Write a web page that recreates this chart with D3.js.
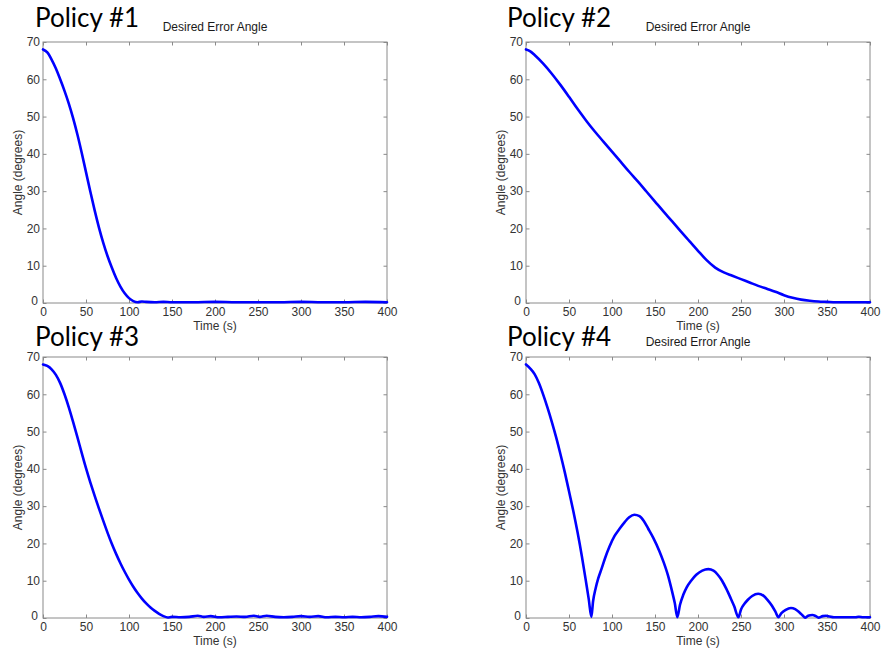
<!DOCTYPE html>
<html>
<head>
<meta charset="utf-8">
<script src="https://cdn.jsdelivr.net/npm/d3@7"></script>
<style>
  html, body { margin: 0; padding: 0; background: #ffffff; }
  svg { display: block; }
</style>
</head>
<body>
<svg id="chart" width="881" height="649"></svg>
<script>
// ---- data ----
const policyTitles = ["Policy #1", "Policy #2", "Policy #3", "Policy #4"];
const plotTitles = ["Desired Error Angle", "Desired Error Angle", "", "Desired Error Angle"];
const xLabel = "Time (s)";
const yLabel = "Angle (degrees)";
const xTicks = [0, 50, 100, 150, 200, 250, 300, 350, 400];
const yTicks = [0, 10, 20, 30, 40, 50, 60, 70];

const policy1Time  = [0, 5, 10, 15, 20, 25, 30, 35, 40, 45, 50, 55, 60, 65, 70, 75, 80, 85, 90, 95, 100, 105, 110, 115, 120, 130, 140, 150, 175, 200, 225, 250, 275, 300, 325, 350, 375, 400];
const policy1Angle = [68, 67.2, 65.3, 62.9, 60, 56.9, 53.5, 49.6, 45.2, 40.3, 35.1, 29.9, 24.9, 20.3, 16.2, 12.6, 9.5, 6.7, 4.4, 2.6, 1.3, 0.5, 0.2, 0.4, 0.3, 0.2, 0.3, 0.2, 0.2, 0.3, 0.2, 0.2, 0.2, 0.3, 0.2, 0.2, 0.3, 0.2];

const policy2Time  = [0, 5, 10, 20, 30, 40, 50, 60, 70, 80, 90, 100, 110, 120, 130, 140, 150, 160, 170, 180, 190, 200, 210, 220, 230, 240, 250, 260, 270, 280, 290, 300, 310, 320, 330, 340, 350, 360, 370, 380, 390, 400];
const policy2Angle = [68, 67.5, 66.5, 64.2, 61.5, 58.5, 55.3, 52, 48.9, 46, 43.3, 40.6, 37.9, 35.2, 32.6, 29.9, 27.2, 24.5, 21.9, 19.2, 16.6, 14, 11.5, 9.5, 8.2, 7.3, 6.4, 5.5, 4.6, 3.8, 3.0, 2.1, 1.4, 0.9, 0.6, 0.4, 0.3, 0.2, 0.2, 0.2, 0.2, 0.2];

const policy3Time  = [0, 5, 10, 15, 20, 25, 30, 35, 40, 45, 50, 55, 60, 65, 70, 75, 80, 85, 90, 95, 100, 105, 110, 115, 120, 125, 130, 135, 140, 145, 150, 160, 170, 180, 187, 195, 205, 215, 225, 235, 245, 252, 260, 270, 280, 290, 300, 310, 320, 330, 340, 350, 360, 370, 380, 390, 400];
const policy3Angle = [68, 67.6, 66.7, 65.2, 63, 60, 56.5, 52.6, 48.5, 44.3, 40.2, 36.4, 32.8, 29.4, 26.1, 22.9, 19.9, 17.2, 14.7, 12.4, 10.3, 8.4, 6.7, 5.2, 3.9, 2.8, 1.9, 1.1, 0.5, 0.15, 0.3, 0.2, 0.3, 0.6, 0.3, 0.5, 0.2, 0.3, 0.4, 0.3, 0.6, 0.3, 0.6, 0.3, 0.2, 0.3, 0.5, 0.3, 0.5, 0.2, 0.3, 0.2, 0.3, 0.2, 0.3, 0.5, 0.3];

const policy4Time  = [0, 5, 10, 15, 20, 25, 30, 35, 40, 45, 50, 55, 60, 65, 70, 73, 76,
  78, 81, 84, 88, 92, 97, 103, 109, 115, 120, 126, 132, 137, 142, 148, 155, 160, 165, 170, 173, 176,
  179, 183, 187, 192, 198, 205, 212, 218, 223, 228, 233, 238, 242, 247,
  250, 254, 258, 263, 270, 276, 281, 286, 290, 293.5,
  297, 302, 308, 313, 318, 322, 324.5, 328, 333, 337, 340, 345, 349, 353, 358, 370, 383, 387, 392, 400];
const policy4Angle = [68, 66.9, 65.4, 63, 59.9, 56.4, 52.6, 48.5, 44, 39.2, 34, 28.7, 22.9, 16.5, 9.4, 5, 0.3,
  4.5, 8, 10.6, 13.3, 16.1, 19.1, 22, 24, 25.8, 27, 27.7, 27.3, 26, 24, 21.5, 18, 15, 11.5, 7, 4, 0.2,
  3.5, 6.3, 8.3, 10, 11.6, 12.7, 13.1, 12.7, 11.6, 10, 7.8, 5.3, 3.2, 0.2,
  2.3, 3.8, 4.9, 5.9, 6.5, 6, 4.8, 3.3, 1.7, 0.2,
  1.3, 2.2, 2.7, 2.4, 1.5, 0.6, 0.1, 0.6, 0.8, 0.5, 0.1, 0.5, 0.6, 0.4, 0.2, 0.2, 0.2, 0.35, 0.2, 0.2];

const seriesTimes = [policy1Time, policy2Time, policy3Time, policy4Time];
const seriesAngles = [policy1Angle, policy2Angle, policy3Angle, policy4Angle];

// ---- layout ----
const panels = [
  { left: 43,  top: 42,  width: 344, height: 261, titleX: 35,  titleY: 27 },
  { left: 526, top: 42,  width: 344, height: 261, titleX: 507, titleY: 27 },
  { left: 43,  top: 357, width: 344, height: 261, titleX: 35,  titleY: 346 },
  { left: 526, top: 357, width: 344, height: 261, titleX: 507, titleY: 346 }
];

const svg = d3.select("#chart");
const axisFont = "'Liberation Sans', Arial, Helvetica, sans-serif";
const textColor = "#333333";
const boxColor = "#8a8a8a";

panels.forEach((p, i) => {
  const x = d3.scaleLinear().domain([0, 400]).range([0, p.width]);
  const y = d3.scaleLinear().domain([0, 70]).range([p.height, 0]);
  const g = svg.append("g").attr("transform", `translate(${p.left},${p.top})`);

  const tick = 3.5;
  const bottom = g.append("g").attr("transform", `translate(0,${p.height})`)
    .call(d3.axisBottom(x).tickValues(xTicks).tickSizeInner(-tick).tickSizeOuter(0).tickPadding(4).tickFormat(d3.format("d")));
  const left = g.append("g")
    .call(d3.axisLeft(y).tickValues(yTicks).tickSizeInner(-tick).tickSizeOuter(0).tickPadding(3).tickFormat(d3.format("d")));
  const top = g.append("g")
    .call(d3.axisTop(x).tickValues(xTicks).tickSizeInner(-tick).tickSizeOuter(0).tickFormat(""));
  const right = g.append("g").attr("transform", `translate(${p.width},0)`)
    .call(d3.axisRight(y).tickValues(yTicks).tickSizeInner(-tick).tickSizeOuter(0).tickFormat(""));

  [bottom, left, top, right].forEach(a => {
    a.select(".domain").remove();
    a.selectAll(".tick line").attr("stroke", boxColor).attr("stroke-width", 1);
    a.selectAll(".tick text").attr("fill", textColor)
      .style("font-family", axisFont).style("font-size", "12px");
  });
  left.selectAll(".tick text").filter(d => d === 0).attr("dy", "0.1em").attr("x", -5);

  g.append("rect").attr("x", 0).attr("y", 0).attr("width", p.width).attr("height", p.height)
    .attr("fill", "none").attr("stroke", boxColor).attr("stroke-width", 1);

  const pts = seriesTimes[i].map((t, k) => [t, seriesAngles[i][k]]);
  const line = d3.line().x(d => x(d[0])).y(d => y(d[1])).curve(d3.curveMonotoneX);
  g.append("path").datum(pts).attr("d", line)
    .attr("fill", "none").attr("stroke", "#0000ff").attr("stroke-width", 2.6)
    .attr("stroke-linejoin", "round").attr("stroke-linecap", "round");

  g.append("text").attr("x", p.width / 2).attr("y", p.height + 27)
    .attr("text-anchor", "middle").attr("fill", textColor)
    .style("font-family", axisFont).style("font-size", "12px").text(xLabel);
  g.append("text").attr("transform", `translate(-21,${p.height / 2}) rotate(-90)`)
    .attr("text-anchor", "middle").attr("fill", textColor)
    .style("font-family", axisFont).style("font-size", "12px").text(yLabel);
  if (plotTitles[i]) {
    g.append("text").attr("x", p.width / 2).attr("y", -11)
      .attr("text-anchor", "middle").attr("fill", "#1a1a1a")
      .style("font-family", axisFont).style("font-size", "12px").text(plotTitles[i]);
  }
  svg.append("text").attr("x", p.titleX).attr("y", p.titleY)
    .attr("fill", "#000000")
    .style("font-family", "Lato, 'Open Sans', sans-serif").style("font-size", "26px")
    .text(policyTitles[i]);
});
</script>
</body>
</html>
